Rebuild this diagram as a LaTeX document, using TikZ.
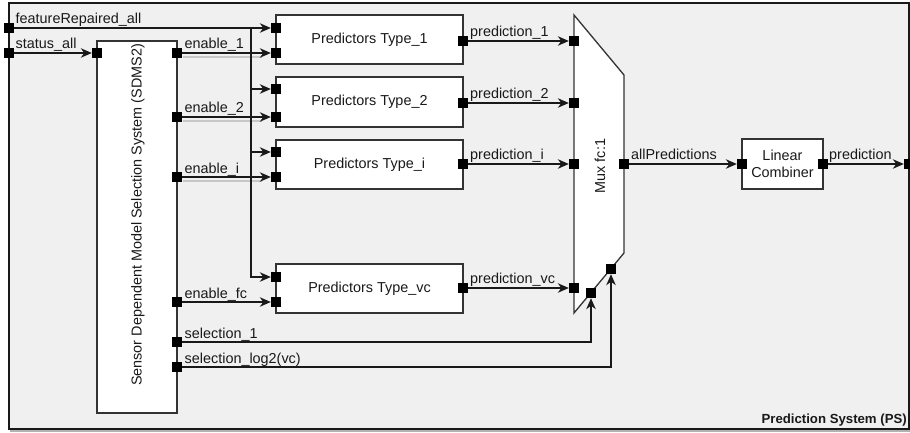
\documentclass[tikz,border=0pt]{standalone}
\usepackage{fontspec}
\setmainfont{Liberation Sans}
\usetikzlibrary{arrows.meta}
\begin{document}
\begin{tikzpicture}[x=1pt,y=-1pt,
  every node/.style={font=\fontsize{14.4}{17}\selectfont, text=black!90},
  line/.style={line width=1.3pt, draw=black!90},
  arr/.style={line, -{Stealth[length=11pt,width=9.5pt,inset=3.5pt]}},
  port/.style={fill=black, draw=none, minimum size=10pt, inner sep=0pt, rectangle},
  block/.style={draw=black!80, line width=1.3pt, fill=white, inner sep=0pt},
  lbl/.style={anchor=base west, inner sep=0pt},
  shadowline/.style={line width=1.3pt, draw=black!22},
]
\useasboundingbox (0,0) rectangle (910,433);
% outer system box
\draw[black!30, line width=1.2pt] (10,431) -- (911,431);
\path[fill=black!6, draw=black!90, line width=1.3pt] (9,3) rectangle (909,429);
\node[anchor=base east, inner sep=0pt, font=\fontsize{13.2}{15}\selectfont\bfseries] (pslbl) at (907,423) {Prediction System (PS)};

% blocks
\node[block, minimum width=80pt, minimum height=372pt] (sdms) at (137,227) {};
\node[rotate=90, inner sep=0pt] (sdmstext) at (138,215) {Sensor Dependent Model Selection System (SDMS2)};
\node[block, minimum width=187pt, minimum height=49pt] (t1) at (369.5,39.5) {Predictors Type\_1};
\node[block, minimum width=187pt, minimum height=50pt] (t2) at (369.5,102) {Predictors Type\_2};
\node[block, minimum width=187pt, minimum height=49pt] (ti) at (369.5,164.5) {Predictors Type\_i};
\node[block, minimum width=187pt, minimum height=49pt] (tv) at (369.5,288.5) {Predictors Type\_vc};
\node[block, minimum width=81pt, minimum height=50pt, align=center] (lc) at (782.5,164) {Linear\\Combiner};
\draw[block] (574,15) -- (624,75) -- (624,253) -- (574,313) -- cycle;
\node[rotate=90, inner sep=0pt] (muxtext) at (600,166) {Mux fc:1};

% ports
\node[port] (pfr) at (9,28) {};
\node[port] (pst) at (9,53) {};
\node[port] (sdin) at (97,53) {};
\node[port] (se1) at (177,53) {};
\node[port] (se2) at (177,117) {};
\node[port] (sei) at (177,177) {};
\node[port] (sefc) at (177,302) {};
\node[port] (ss1) at (177,342) {};
\node[port] (sslog) at (177,367) {};
\node[port] (t1a) at (276,28) {};
\node[port] (t1b) at (276,53) {};
\node[port] (t1o) at (463,41) {};
\node[port] (t2a) at (276,89) {};
\node[port] (t2b) at (276,117) {};
\node[port] (t2o) at (463,103) {};
\node[port] (tia) at (276,152) {};
\node[port] (tib) at (276,177) {};
\node[port] (tio) at (463,164) {};
\node[port] (tva) at (276,277) {};
\node[port] (tvb) at (276,302) {};
\node[port] (tvo) at (463,288) {};
\node[port] (m1) at (574,41) {};
\node[port] (m2) at (574,103) {};
\node[port] (mi) at (574,164) {};
\node[port] (mv) at (574,288) {};
\node[port] (mo) at (624,164) {};
\node[port] (ms1) at (591,293) {};
\node[port] (ms2) at (611,269) {};
\node[port] (lci) at (742,164) {};
\node[port] (lco) at (823,164) {};
\node[port] (pout) at (909,164) {};

% faint shadow lines under enables
\draw[shadowline] (183,57) -- (262,57);
\draw[shadowline] (183,121) -- (262,121);
\draw[shadowline] (183,181) -- (262,181);

% connectors
\draw[arr] (pfr) -- (t1a);
\draw[arr] (pst) -- (sdin);
\coordinate (bus) at (251,28);
\draw[arr] (bus) |- (t2a);
\draw[arr] (bus) |- (tia);
\draw[arr] (bus) |- (tva);
\draw[arr] (se1) -- (t1b);
\draw[arr] (se2) -- (t2b);
\draw[arr] (sei) -- (tib);
\draw[arr] (sefc) -- (tvb);
\draw[arr] (t1o) -- (m1);
\draw[arr] (t2o) -- (m2);
\draw[arr] (tio) -- (mi);
\draw[arr] (tvo) -- (mv);
\draw[arr] (ss1) -| (ms1);
\draw[arr] (sslog) -| (ms2);
\draw[arr] (mo) -- (lci);
\draw[arr] (lco) -- (pout);

% labels
\node[lbl] (lfr) at (15.5,23.5) {featureRepaired\_all};
\node[lbl] (lst) at (15.5,48.5) {status\_all};
\node[lbl] (le1) at (184.5,49) {enable\_1};
\node[lbl] (le2) at (184.5,113) {enable\_2};
\node[lbl] (lei) at (184.5,173) {enable\_i};
\node[lbl] (lefc) at (184.5,298) {enable\_fc};
\node[lbl] (ls1) at (184.5,338) {selection\_1};
\node[lbl] (lslog) at (184.5,363) {selection\_log2(vc)};
\node[lbl] (lp1) at (470,36.5) {prediction\_1};
\node[lbl] (lp2) at (470,98.5) {prediction\_2};
\node[lbl] (lpi) at (470,159.5) {prediction\_i};
\node[lbl] (lpv) at (470,283.5) {prediction\_vc};
\node[lbl] (lall) at (631,159.5) {allPredictions};
\node[lbl] (lpred) at (829,159.5) {prediction};
\end{tikzpicture}
\end{document}
